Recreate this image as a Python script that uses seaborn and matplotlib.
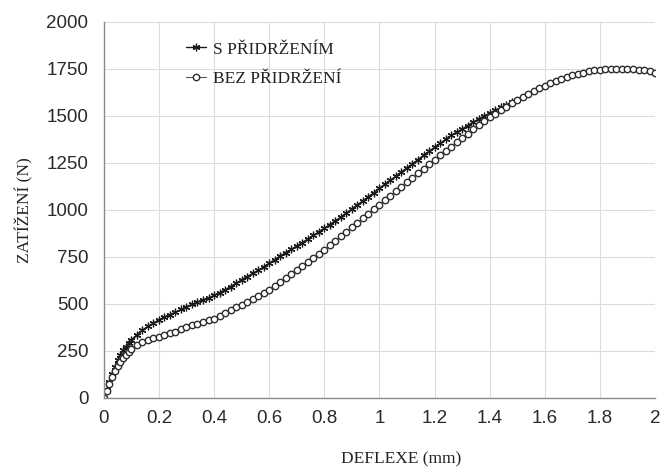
import matplotlib
matplotlib.use("Agg")
import matplotlib.pyplot as plt
import seaborn as sns
import pandas as pd
from matplotlib.ticker import FuncFormatter, MultipleLocator

# --- data ---
s_x = [0.00, 0.01, 0.02, 0.03, 0.04, 0.05, 0.06, 0.07, 0.08, 0.09, 0.10,
       0.12, 0.14, 0.16, 0.18, 0.20, 0.22, 0.24, 0.26, 0.28, 0.30,
       0.32, 0.34, 0.36, 0.38, 0.40, 0.42, 0.44, 0.46, 0.48, 0.50,
       0.52, 0.54, 0.56, 0.58, 0.60, 0.62, 0.64, 0.66, 0.68, 0.70,
       0.72, 0.74, 0.76, 0.78, 0.80, 0.82, 0.84, 0.86, 0.88, 0.90,
       0.92, 0.94, 0.96, 0.98, 1.00, 1.02, 1.04, 1.06, 1.08, 1.10,
       1.12, 1.14, 1.16, 1.18, 1.20, 1.22, 1.24, 1.26, 1.28, 1.30,
       1.32, 1.34, 1.36, 1.38, 1.40, 1.42, 1.44, 1.46, 1.48]
s_y = [0, 40, 85, 125, 165, 200, 228, 252, 273, 292, 308,
       336, 360, 380, 398, 415, 430, 443, 456, 470, 485,
       497, 510, 522, 532, 545, 560, 575, 592, 610, 628,
       645, 662, 678, 697, 716, 735, 755, 773, 790, 808,
       826, 845, 864, 883, 902, 922, 942, 962, 983, 1005,
       1027, 1048, 1070, 1092, 1115, 1137, 1158, 1180, 1202, 1224,
       1246, 1268, 1290, 1312, 1333, 1354, 1375, 1396, 1414, 1430,
       1449, 1467, 1484, 1500, 1515, 1530, 1545, 1559, 1572]

b_x = [0.00, 0.01, 0.02, 0.03, 0.04, 0.05, 0.06, 0.07, 0.08, 0.09, 0.10,
       0.12, 0.14, 0.16, 0.18, 0.20, 0.22, 0.24, 0.26, 0.28, 0.30,
       0.32, 0.34, 0.36, 0.38, 0.40, 0.42, 0.44, 0.46, 0.48, 0.50,
       0.52, 0.54, 0.56, 0.58, 0.60, 0.62, 0.64, 0.66, 0.68, 0.70,
       0.72, 0.74, 0.76, 0.78, 0.80, 0.82, 0.84, 0.86, 0.88, 0.90,
       0.92, 0.94, 0.96, 0.98, 1.00, 1.02, 1.04, 1.06, 1.08, 1.10,
       1.12, 1.14, 1.16, 1.18, 1.20, 1.22, 1.24, 1.26, 1.28, 1.30,
       1.32, 1.34, 1.36, 1.38, 1.40, 1.42, 1.44, 1.46, 1.48, 1.50,
       1.52, 1.54, 1.56, 1.58, 1.60, 1.62, 1.64, 1.66, 1.68, 1.70,
       1.72, 1.74, 1.76, 1.78, 1.80, 1.82, 1.84, 1.86, 1.88, 1.90,
       1.92, 1.94, 1.96, 1.98, 2.00]
b_y = [0, 35, 75, 110, 140, 167, 190, 210, 228, 245, 258,
       280, 296, 308, 318, 326, 334, 343, 352, 365, 378,
       386, 395, 403, 412, 422, 436, 451, 466, 481, 496,
       511, 527, 543, 558, 575, 595, 616, 637, 658, 679,
       700, 722, 743, 765, 787, 811, 835, 859, 883, 907,
       931, 955, 979, 1003, 1027, 1051, 1075, 1099, 1123, 1147,
       1171, 1195, 1219, 1243, 1266, 1290, 1313, 1337, 1360, 1383,
       1406, 1428, 1450, 1471, 1492, 1512, 1531, 1550, 1568, 1585,
       1602, 1618, 1633, 1647, 1661, 1674, 1686, 1697, 1707, 1716,
       1724, 1731, 1737, 1742, 1746, 1749, 1751, 1752, 1752, 1751,
       1749, 1746, 1742, 1737, 1731]

label_s = "S PŘIDRŽENÍM"
label_b = "BEZ PŘIDRŽENÍ"
x_label = "DEFLEXE (mm)"
y_label = "ZATÍŽENÍ (N)"

df_s = pd.DataFrame({"x": s_x, "y": s_y})
df_b = pd.DataFrame({"x": b_x, "y": b_y})

sns.set_theme(style="whitegrid")
plt.rcParams["font.family"] = ["Liberation Sans", "DejaVu Sans"]
serif = ["Liberation Serif", "DejaVu Serif"]

fig = plt.figure(figsize=(6.61, 4.68), dpi=100)
ax = fig.add_axes([0.157, 0.150, 0.834, 0.803])

sns.lineplot(data=df_s, x="x", y="y", ax=ax, sort=False, color="#1a1a1a",
             linewidth=1.0, marker=(6, 2, 0), markersize=5.5,
             markeredgecolor="#1a1a1a", markeredgewidth=0.9, label=label_s)
sns.lineplot(data=df_b, x="x", y="y", ax=ax, sort=False, color="#555555",
             linewidth=0.8, marker="o", markersize=4.6,
             markerfacecolor="white", markeredgecolor="#2e2e2e",
             markeredgewidth=1.0, label=label_b)

ax.set_xlim(0, 2)
ax.set_ylim(0, 2000)
ax.xaxis.set_major_locator(MultipleLocator(0.2))
ax.yaxis.set_major_locator(MultipleLocator(250))
ax.xaxis.set_major_formatter(FuncFormatter(lambda v, p: f"{v:g}"))
ax.yaxis.set_major_formatter(FuncFormatter(lambda v, p: f"{v:g}"))

ax.grid(True, color="#dcdcdc", linewidth=0.8)
for side in ["top", "right"]:
    ax.spines[side].set_visible(False)
for side in ["left", "bottom"]:
    ax.spines[side].set_visible(True)
    ax.spines[side].set_color("#8a8a8a")
    ax.spines[side].set_linewidth(1.0)

ax.tick_params(axis="both", labelsize=13.5, length=0)
ax.tick_params(axis="y", pad=11)
ax.tick_params(axis="x", pad=9)
for lbl in ax.get_xticklabels() + ax.get_yticklabels():
    lbl.set_color("#2a2a2a")

ax.set_xlabel(x_label, fontsize=12.5, family=serif, color="#222222")
ax.set_ylabel(y_label, fontsize=12.5, family=serif, color="#222222")
ax.xaxis.set_label_coords(0.539, -0.142)
ax.yaxis.set_label_coords(-0.128, 0.5)

leg = ax.legend(loc="upper left", bbox_to_anchor=(0.12, 0.99), frameon=False,
                prop={"family": serif, "size": 12.5},
                handlelength=1.2, handletextpad=0.4, labelspacing=0.75)
for t in leg.get_texts():
    t.set_color("#222222")

fig.savefig("out.png", dpi=100)
